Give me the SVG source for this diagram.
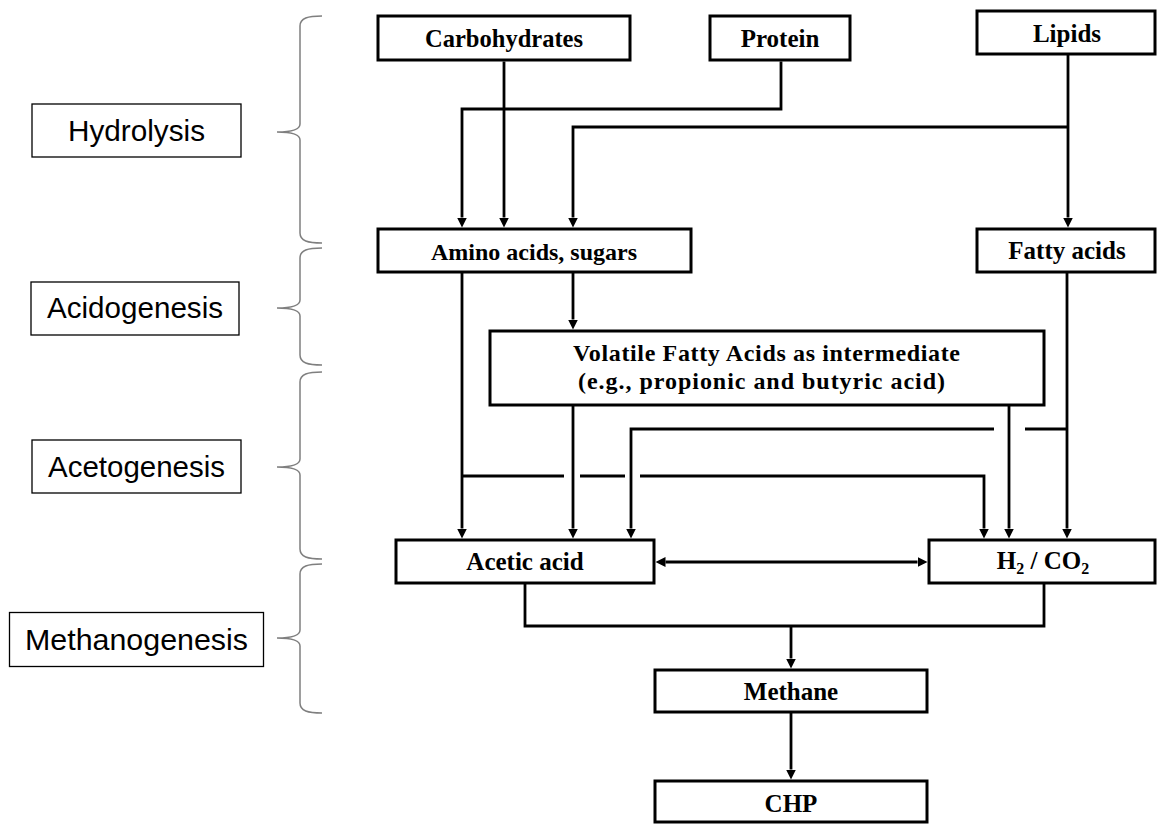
<svg xmlns="http://www.w3.org/2000/svg" width="1158" height="824" viewBox="0 0 1158 824">
<style>
.box{fill:#fff;stroke:#000;stroke-width:3}
.stage{fill:#fff;stroke:#000;stroke-width:1.3}
.t{font-family:"Liberation Serif","Times New Roman",serif;font-weight:bold;font-size:25px;text-anchor:middle;fill:#000}
.s{font-family:"Liberation Sans",Arial,sans-serif;font-size:30px;fill:#000}
.c{fill:none;stroke:#000;stroke-width:2.8}
.br{fill:none;stroke:#7f7f7f;stroke-width:1.5}
</style>
<defs>
<marker id="ah" viewBox="0 0 10 10" refX="0" refY="5" markerWidth="10" markerHeight="10" markerUnits="userSpaceOnUse" orient="auto-start-reverse">
<path d="M0,0 L10,5 L0,10 z" fill="#000"/>
</marker>
</defs>
<rect width="1158" height="824" fill="#fff"/>

<g id="braces">
<path class="br" d="M322,16 C308,16 300,18 300,26 V124 C300,129 292,132 277,132 C292,132 300,135 300,140 V233 C300,241 308,243 322,243"/>
<path class="br" d="M322,248 C308,248 300,250 300,258 V300 C300,305 292,308 277,308 C292,308 300,311 300,316 V355 C300,363 308,365 322,365"/>
<path class="br" d="M322,372 C308,372 300,374 300,382 V459 C300,464 292,467 277,467 C292,467 300,470 300,475 V549 C300,557 308,559 322,559"/>
<path class="br" d="M322,564 C308,564 300,566 300,574 V630 C300,635 292,638 277,638 C292,638 300,641 300,646 V703 C300,711 308,713 322,713"/>
</g>

<g id="stage-hydrolysis"><rect class="stage" x="32" y="104" width="209" height="53"/><text class="s" x="68" y="141" textLength="137" lengthAdjust="spacingAndGlyphs">Hydrolysis</text></g>
<g id="stage-acidogenesis"><rect class="stage" x="31" y="282" width="208" height="53"/><text class="s" x="47" y="318" textLength="176" lengthAdjust="spacingAndGlyphs">Acidogenesis</text></g>
<g id="stage-acetogenesis"><rect class="stage" x="32" y="440" width="209" height="53"/><text class="s" x="48" y="477" textLength="177" lengthAdjust="spacingAndGlyphs">Acetogenesis</text></g>
<g id="stage-methanogenesis"><rect class="stage" x="9.5" y="612.5" width="254" height="54"/><text class="s" x="25" y="650" textLength="223" lengthAdjust="spacingAndGlyphs">Methanogenesis</text></g>

<g id="connectors">
<path class="c" d="M504,61.5 V217.5" marker-end="url(#ah)"/>
<path class="c" d="M781,61.5 V109 H462 V217.5" marker-end="url(#ah)"/>
<path class="c" d="M1068,54.5 V217.5" marker-end="url(#ah)"/>
<path class="c" d="M1068,127 H573 V217.5" marker-end="url(#ah)"/>
<path class="c" d="M573,272.5 V319.5" marker-end="url(#ah)"/>
<path class="c" d="M462,272.5 V528.5" marker-end="url(#ah)"/>
<path class="c" d="M462,476 H564 M580,476 H625"/>
<path class="c" d="M640,476 H984 V528.5" marker-end="url(#ah)"/>
<path class="c" d="M573,405.5 V528.5" marker-end="url(#ah)"/>
<path class="c" d="M1009,405.5 V528.5" marker-end="url(#ah)"/>
<path class="c" d="M1067,272.5 V528.5" marker-end="url(#ah)"/>
<path class="c" d="M1067,429 H1025"/>
<path class="c" d="M994,429 H631 V528.5" marker-end="url(#ah)"/>
<path class="c" d="M665.5,562 H917.5" marker-start="url(#ah)" marker-end="url(#ah)"/>
<path class="c" d="M525,583.5 V626 H1044 V583.5"/>
<path class="c" d="M791,626 V658.5" marker-end="url(#ah)"/>
<path class="c" d="M791,712.5 V769.5" marker-end="url(#ah)"/>
</g>

<g id="carbohydrates"><rect class="box" x="378" y="16" width="252" height="44"/><text class="t" x="504" y="47" textLength="158" lengthAdjust="spacingAndGlyphs">Carbohydrates</text></g>
<g id="protein"><rect class="box" x="710" y="16" width="140" height="44"/><text class="t" x="780" y="47">Protein</text></g>
<g id="lipids"><rect class="box" x="977" y="11" width="178" height="43"/><text class="t" x="1067" y="42">Lipids</text></g>
<g id="amino-acids"><rect class="box" x="378" y="229" width="313" height="43"/><text class="t" x="534" y="260" style="font-size:24px">Amino acids, sugars</text></g>
<g id="fatty-acids"><rect class="box" x="977" y="229" width="178" height="43"/><text class="t" x="1067" y="259">Fatty acids</text></g>
<g id="vfa"><rect class="box" x="490" y="331" width="554" height="74"/>
<text class="t" x="766.5" y="361" textLength="387" lengthAdjust="spacing" style="font-size:24px">Volatile Fatty Acids as intermediate</text>
<text class="t" x="761.5" y="389" textLength="367" lengthAdjust="spacing" style="font-size:24px">(e.g., propionic and butyric acid)</text></g>
<g id="acetic-acid"><rect class="box" x="396" y="540" width="258" height="43"/><text class="t" x="525" y="570">Acetic acid</text></g>
<g id="h2-co2"><rect class="box" x="929" y="540" width="226" height="43"/><text class="t" x="1043" y="569">H<tspan font-size="16" dy="5">2</tspan><tspan dy="-5"> / CO</tspan><tspan font-size="16" dy="5">2</tspan></text></g>
<g id="methane"><rect class="box" x="655" y="670" width="272" height="42"/><text class="t" x="791" y="700">Methane</text></g>
<g id="chp"><rect class="box" x="655" y="781" width="272" height="41"/><text class="t" x="791" y="812">CHP</text></g>
</svg>
